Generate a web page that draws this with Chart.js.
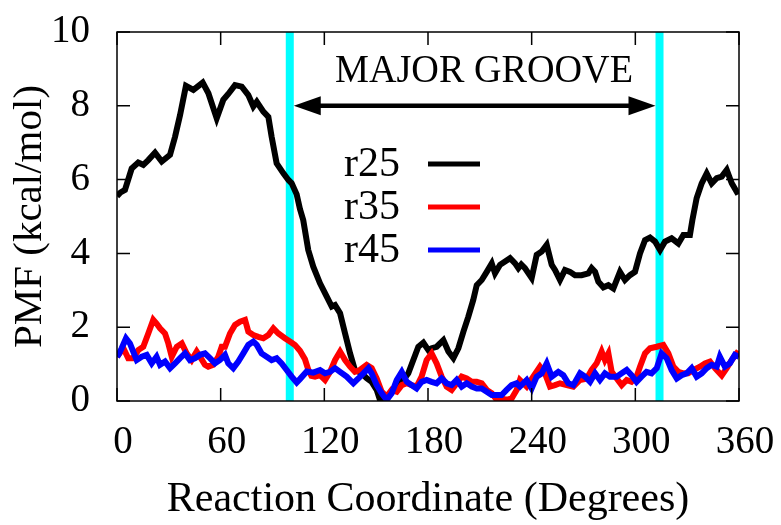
<!DOCTYPE html>
<html><head><meta charset="utf-8">
<script src="https://cdn.jsdelivr.net/npm/chart.js@4"></script>
<style>html,body{margin:0;padding:0;background:#fff}canvas{display:block}</style>
</head><body>
<canvas id="c" width="781" height="525"></canvas>
<script>
const xTickLabels=[0,60,120,180,240,300,360];
const yTickLabels=[0,2,4,6,8,10];
const grooveLines=[100,314];
const arrowPmf=8;
const grooveText='MAJOR GROOVE';
const seriesNames=['r25','r35','r45'];

const r25Deg=[0,2,4.6,8.5,12.3,15.2,18.1,22,25.9,30.7,33.6,36.5,39.9,44.2,49.6,52.9,57.7,61.5,64.4,68.3,72.2,76,78.9,80.9,84.7,87.6,89.5,92.4,96.3,99.2,101.1,104,105.9,107.8,110.7,113.6,117.5,121.4,124.3,126.2,129.1,132,134.9,137.7,141.6,144.5,147.4,150.3,152.2,155.7,158,161.9,165.7,168.6,171.5,174.4,177.3,180.2,182.1,185,188.9,191.8,194.7,197.6,200.5,203.3,206.2,208.2,211.1,214,216.9,218.8,221.7,224.6,227.5,230.4,232.3,234,236.1,240,242.9,245.8,248.7,251.6,253.5,256.4,259.3,262.2,265.1,268.9,272.8,274.7,276.7,278.6,281.5,284.4,287.3,291.1,294,296.9,299.8,302.7,305.6,308.5,311.4,314.3,317.2,321,324.9,327.8,331.6,333,335.5,338.4,341.3,344.2,347.1,350,352.9,355.8,358.7,360];
const r25Pmf=[5.55,5.65,5.72,6.3,6.46,6.4,6.53,6.73,6.49,6.67,7.16,7.75,8.54,8.43,8.63,8.34,7.66,8.16,8.32,8.56,8.52,8.29,7.98,8.11,7.84,7.7,7.16,6.44,6.17,5.99,5.9,5.6,5.2,4.9,4.09,3.64,3.19,2.83,2.56,2.6,2.38,1.83,1.29,0.84,0.75,0.62,0.52,0.3,0.03,0.03,0.21,0.43,0.57,0.75,1.11,1.47,1.58,1.38,1.43,1.47,1.65,1.34,1.16,1.43,1.88,2.28,2.74,3.14,3.28,3.5,3.73,3.46,3.69,3.78,3.87,3.73,3.6,3.7,3.6,3.33,3.96,4.05,4.23,3.69,3.55,3.28,3.55,3.5,3.41,3.41,3.46,3.6,3.5,3.23,3.08,3.14,3.05,3.5,3.28,3.41,3.5,4.0,4.36,4.43,4.32,4.09,4.32,4.41,4.27,4.5,4.5,4.9,5.5,5.9,6.17,5.9,6.04,6.08,6.26,5.9,5.67,5.7];

const r35Deg=[0,0.8,3.7,6.5,9.4,12.3,15.2,18.1,21,22.9,24.9,27.8,29.7,31.7,34.6,37.5,40.3,43.2,46.1,48,50.9,52.8,55.7,58.6,60.6,62.5,65.4,68.3,71.2,74.1,76,78.9,81.8,84.7,87.6,90.5,93.4,97.2,100.1,103,105.9,108.8,110.7,112.5,114.6,117.5,120.4,123.3,126.2,129.1,132,134.9,137.7,140.6,144.5,147.4,150.3,153.2,156.1,159,161.9,164.8,167.7,170.6,173.4,176.3,179.2,182.1,185,187.9,190.8,193.7,196.6,199.5,202.4,205.3,208.2,211.1,214,216.9,219.8,222.6,225.5,228.4,231.3,233.2,237.1,240.9,244.8,247.7,250.6,253.5,256.4,260.3,264.1,268,271.9,274.7,277.6,280.5,282.4,284.4,286.3,289.2,292.1,295,297.8,300.7,302.7,305.6,308.5,312.4,316.2,319.1,322,324.9,327.8,330.6,333.5,337.4,340.3,343.2,346.1,350,352.9,355.8,358.7,360];
const r35Pmf=[1.2,1.25,1.43,1.16,1.16,1.38,1.47,1.83,2.2,2.1,1.97,1.83,1.56,1.2,1.47,1.56,1.29,1.11,1.34,1.2,0.98,0.93,0.98,1.2,1.47,1.47,1.83,2.06,2.15,2.2,1.88,1.79,1.74,1.7,1.79,1.97,1.83,1.7,1.61,1.52,1.36,1.13,0.85,0.68,0.66,0.7,0.57,0.79,1.11,1.34,1.11,0.93,0.79,0.84,0.98,0.89,0.61,0.25,0.12,0.3,0.25,0.43,0.48,0.43,0.39,0.66,1.11,1.29,1.02,0.66,0.39,0.3,0.48,0.66,0.61,0.52,0.52,0.48,0.3,0.21,0.03,0.07,0.03,0.07,0.3,0.57,0.39,0.66,0.93,0.75,0.39,0.43,0.48,0.43,0.39,0.57,0.61,0.84,1.02,1.34,1.11,1.29,0.79,0.61,0.43,0.57,0.52,0.66,0.93,1.29,1.43,1.47,1.52,1.29,0.93,0.79,0.75,0.75,0.84,0.93,1.02,1.07,0.89,0.69,0.89,1.11,1.29,1.25];

const r45Deg=[0,0.8,2.7,5.2,7.5,9.4,11.4,14.3,17.2,20.1,22.9,24.9,27.8,30.7,33.6,36.5,39.4,42.2,45.1,48,50.9,53.8,56.7,59.6,62.5,64.4,67.3,70.2,73.1,76,78.9,80.9,83.7,86.6,89.5,92.4,95.3,98.2,101.1,104,106,109.8,113.6,117.5,120.4,123.3,126.2,129.1,132.9,136.8,139.7,142.6,145.5,147.4,150.3,153.2,156.1,159,161.9,164.8,167.7,170.6,173.4,176.3,179.2,182.1,185,187.9,190.8,193.7,196.6,199.5,202.4,205.3,208.2,211.1,214,216.9,219.8,222.6,225.5,228.4,231.3,233.2,237.1,240,242.9,245.8,248.7,251.6,255.4,258.3,261.2,264.1,268,270.9,273.8,276.7,279.5,282.4,285.3,289.2,292.1,295,297.8,300.7,303.6,306.5,309.4,312.4,315.2,318.1,321,324,326.8,329.7,332.6,335.5,338.4,341.3,344.2,347.1,348.9,351.8,354.7,357.6,360];
const r45Pmf=[1.2,1.25,1.43,1.7,1.56,1.34,1.11,1.2,1.25,1.02,1.2,0.98,1.07,0.89,1.02,1.16,1.29,1.11,1.16,1.25,1.29,1.16,1.02,1.11,1.25,1.02,0.89,1.07,1.29,1.52,1.61,1.52,1.29,1.2,1.11,1.16,1.02,0.84,0.66,0.5,0.6,0.8,0.77,0.84,0.75,0.79,0.89,0.79,0.66,0.48,0.61,0.75,0.89,0.75,0.43,0.21,0.03,0.21,0.57,0.79,0.52,0.43,0.34,0.52,0.57,0.52,0.48,0.61,0.48,0.43,0.57,0.39,0.48,0.39,0.34,0.34,0.25,0.16,0.16,0.16,0.3,0.43,0.48,0.39,0.57,0.34,0.66,0.75,1.02,0.66,0.79,0.7,0.48,0.43,0.75,0.66,0.52,0.75,0.57,0.75,0.66,0.66,0.75,0.84,0.7,0.52,0.66,0.79,0.75,0.89,1.29,1.16,0.84,0.61,0.7,0.75,0.89,0.66,0.75,0.89,0.98,0.93,1.2,0.93,1.02,1.25,1.2];

const FONT="'Liberation Serif','Times New Roman',Times,serif";
function pts(xs,ys){return xs.map((x,i)=>({x:x,y:ys[i]}));}

const deco={
  id:'deco',
  beforeDatasetsDraw(chart){
    const {ctx,chartArea:a,scales:{x}}=chart;
    ctx.save();
    ctx.strokeStyle='#00ffff';ctx.lineWidth=8;
    grooveLines.forEach(v=>{const px=x.getPixelForValue(v);ctx.beginPath();ctx.moveTo(px,a.top);ctx.lineTo(px,a.bottom);ctx.stroke();});
    ctx.restore();
  },
  afterDatasetsDraw(chart){
    const {ctx,chartArea:a,scales:{x,y}}=chart;
    ctx.save();
    ctx.strokeStyle='#000';ctx.lineWidth=1.5;
    ctx.strokeRect(a.left,a.top,a.right-a.left,a.bottom-a.top);
    const tl=13;
    ctx.beginPath();
    xTickLabels.forEach(v=>{const px=x.getPixelForValue(v);ctx.moveTo(px,a.bottom);ctx.lineTo(px,a.bottom-tl);ctx.moveTo(px,a.top);ctx.lineTo(px,a.top+tl);});
    yTickLabels.forEach(v=>{const py=y.getPixelForValue(v);ctx.moveTo(a.left,py);ctx.lineTo(a.left+tl,py);ctx.moveTo(a.right,py);ctx.lineTo(a.right-tl,py);});
    ctx.stroke();
    const ay=y.getPixelForValue(arrowPmf);
    const x1=x.getPixelForValue(grooveLines[0])+4, x2=x.getPixelForValue(grooveLines[1])-4;
    const hl=27, hw=9.5;
    ctx.lineWidth=4.5;
    ctx.beginPath();ctx.moveTo(x1+hl-2,ay);ctx.lineTo(x2-hl+2,ay);ctx.stroke();
    ctx.fillStyle='#000';
    ctx.beginPath();ctx.moveTo(x1,ay);ctx.lineTo(x1+hl,ay-hw);ctx.lineTo(x1+hl,ay+hw);ctx.closePath();ctx.fill();
    ctx.beginPath();ctx.moveTo(x2,ay);ctx.lineTo(x2-hl,ay-hw);ctx.lineTo(x2-hl,ay+hw);ctx.closePath();ctx.fill();
    ctx.font='40px '+FONT;ctx.textAlign='center';ctx.textBaseline='alphabetic';
    ctx.fillText(grooveText,484,82,298);
    ctx.textAlign='right';ctx.textBaseline='middle';ctx.font='42px '+FONT;
    chart.data.datasets.forEach((ds,i)=>{
      const ry=164+i*43;
      ctx.fillStyle='#000';ctx.fillText(ds.label,400,ry+1);
      ctx.strokeStyle=ds.borderColor;ctx.lineWidth=5;
      ctx.beginPath();ctx.moveTo(428,ry);ctx.lineTo(480,ry);ctx.stroke();
    });
    ctx.restore();
  }
};

new Chart(document.getElementById('c'),{
  type:'line',
  data:{datasets:[
    {label:seriesNames[0],data:pts(r25Deg,r25Pmf),borderColor:'#000000',borderWidth:6,pointRadius:0,tension:0,order:2},
    {label:seriesNames[1],data:pts(r35Deg,r35Pmf),borderColor:'#ff0000',borderWidth:6,pointRadius:0,tension:0,order:1},
    {label:seriesNames[2],data:pts(r45Deg,r45Pmf),borderColor:'#0000ff',borderWidth:6,pointRadius:0,tension:0,order:0}
  ]},
  options:{
    responsive:false,animation:false,devicePixelRatio:1,
    layout:{padding:{top:32,right:42,left:0,bottom:0}},
    plugins:{legend:{display:false},tooltip:{enabled:false}},
    scales:{
      x:{type:'linear',min:0,max:360,
        afterBuildTicks:s=>{s.ticks=xTickLabels.map(v=>({value:v}));},
        afterFit:s=>{s.height=124;s.paddingLeft=0;s.paddingRight=0;s.paddingTop=0;s.paddingBottom=0;},
        grid:{display:false,drawTicks:false},border:{display:false},
        ticks:{font:{family:FONT,size:39},color:'#000',padding:18,labelOffset:6,maxRotation:0,autoSkip:false},
        title:{display:true,text:'Reaction Coordinate (Degrees)',font:{family:FONT,size:42,lineHeight:1.2},color:'#000',padding:0}
      },
      y:{type:'linear',min:0,max:10,
        afterBuildTicks:s=>{s.ticks=yTickLabels.map(v=>({value:v}));},
        afterFit:s=>{s.width=117;s.paddingLeft=0;s.paddingRight=0;s.paddingTop=0;s.paddingBottom=0;},
        grid:{display:false,drawTicks:false},border:{display:false},
        ticks:{font:{family:FONT,size:39},color:'#000',padding:27,autoSkip:false},
        title:{display:true,text:'PMF (kcal/mol)',font:{family:FONT,size:41,lineHeight:1.2},color:'#000',padding:{top:6,bottom:0}}
      }
    }
  },
  plugins:[deco]
});
</script>
</body></html>
